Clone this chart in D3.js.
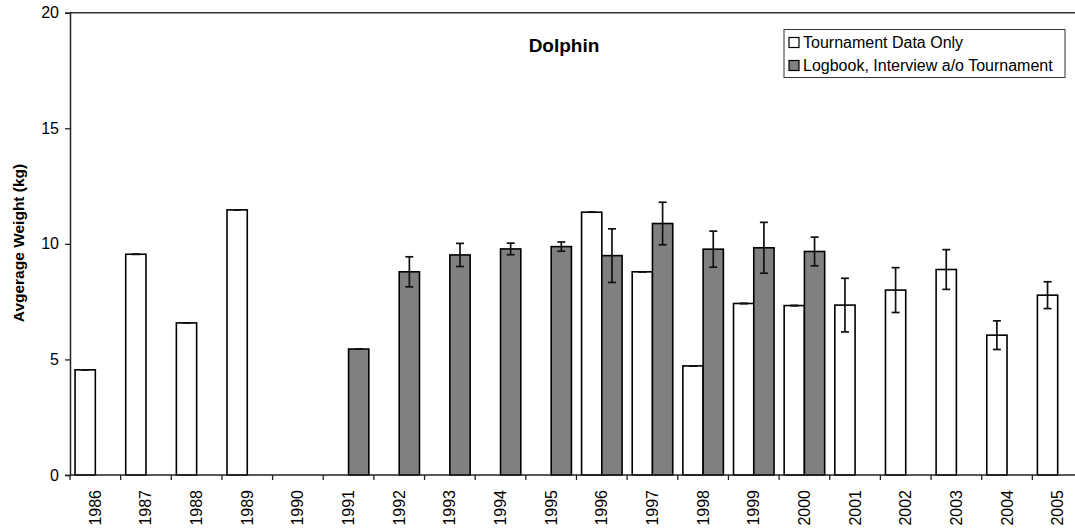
<!DOCTYPE html>
<html>
<head>
<meta charset="utf-8">
<script src="https://cdn.jsdelivr.net/npm/d3@7"></script>
<style>
  html, body { margin: 0; padding: 0; background: #fff; }
  svg { display: block; font-family: "Liberation Sans", Arial, sans-serif; }
</style>
</head>
<body>
<svg id="chart" width="1075" height="531"></svg>
<script>
// Dolphin average weight by year, two data sources
const years = ["1986","1987","1988","1989","1990","1991","1992","1993","1994","1995",
               "1996","1997","1998","1999","2000","2001","2002","2003","2004","2005"];
const seriesNames = ["Tournament Data Only", "Logbook, Interview a/o Tournament"];
const tournament    = [4.55, 9.55, 6.58, 11.47, 0, 0, 0, 0, 0, 0,
                       11.37, 8.79, 4.72, 7.42, 7.33, 7.35, 8.0, 8.89, 6.05, 7.78];
const tournamentErr = [0, 0, 0, 0, 0, 0, 0, 0, 0, 0,
                       0, 0, 0, 0, 0, 1.16, 0.97, 0.86, 0.62, 0.58];
const logbook       = [0, 0, 0, 0, 0, 5.45, 8.79, 9.52, 9.78, 9.88,
                       9.49, 10.88, 9.77, 9.83, 9.67, 0, 0, 0, 0, 0];
const logbookErr    = [0, 0, 0, 0, 0, 0, 0.65, 0.5, 0.25, 0.2,
                       1.16, 0.92, 0.78, 1.1, 0.62, 0, 0, 0, 0, 0];
const yTicks = [0, 5, 10, 15, 20];
const fills = ["#ffffff", "#808080"];

const svg = d3.select("#chart");
const plotLeft = 70, plotTop = 12.7, plotBottom = 475;
const step = 50.65;
const plotRight = plotLeft + step * years.length;

const x = d3.scaleBand().domain(years).range([plotLeft, plotRight]).padding(0);
const xs = d3.scaleBand().domain(seriesNames).range([0, x.bandwidth()])
  .paddingInner(0).paddingOuter(0.25);
const y = d3.scaleLinear().domain([0, 20]).range([plotBottom, plotTop]);

const rows = years.map((yr, i) => ({
  year: yr,
  vals: [
    { s: seriesNames[0], v: tournament[i], e: tournamentErr[i], fill: fills[0] },
    { s: seriesNames[1], v: logbook[i], e: logbookErr[i], fill: fills[1] }
  ]
}));

// bars
const groups = svg.append("g").selectAll("g").data(rows).join("g")
  .attr("transform", d => `translate(${x(d.year)},0)`);

groups.selectAll("rect").data(d => d.vals).join("rect")
  .attr("x", d => xs(d.s))
  .attr("y", d => y(d.v))
  .attr("width", xs.bandwidth())
  .attr("height", d => y(0) - y(d.v))
  .attr("fill", d => d.fill)
  .attr("stroke", "#000")
  .attr("stroke-width", 1.6);

// error bars
const capW = 8;
const eb = groups.selectAll("g.err").data(d => d.vals.filter(v => v.v > 0)).join("g")
  .attr("class", "err")
  .attr("stroke", "#111")
  .attr("stroke-width", 1.7);
eb.append("line")
  .attr("x1", d => xs(d.s) + xs.bandwidth() / 2)
  .attr("x2", d => xs(d.s) + xs.bandwidth() / 2)
  .attr("y1", d => y(d.v + d.e))
  .attr("y2", d => y(d.v - d.e));
eb.append("line")
  .attr("x1", d => xs(d.s) + xs.bandwidth() / 2 - capW / 2)
  .attr("x2", d => xs(d.s) + xs.bandwidth() / 2 + capW / 2)
  .attr("y1", d => y(d.v + d.e))
  .attr("y2", d => y(d.v + d.e));
eb.append("line")
  .attr("x1", d => xs(d.s) + xs.bandwidth() / 2 - capW / 2)
  .attr("x2", d => xs(d.s) + xs.bandwidth() / 2 + capW / 2)
  .attr("y1", d => y(d.v - d.e))
  .attr("y2", d => y(d.v - d.e));

// top frame line
svg.append("line")
  .attr("x1", plotLeft).attr("x2", plotRight)
  .attr("y1", y(20)).attr("y2", y(20))
  .attr("stroke", "#333").attr("stroke-width", 1.5);

// y axis
const yAxis = svg.append("g")
  .attr("transform", `translate(${plotLeft},0)`)
  .call(d3.axisLeft(y).tickValues(yTicks).tickSize(5).tickPadding(6).tickFormat(d3.format("d")));
yAxis.select(".domain").attr("stroke", "#222").attr("stroke-width", 1.5);
yAxis.selectAll(".tick line").attr("stroke", "#222").attr("stroke-width", 1.3);
yAxis.selectAll(".tick text")
  .attr("font-size", 16).attr("fill", "#000")
  .attr("font-family", "'Liberation Sans', Arial, sans-serif");

// x axis with ticks at category boundaries
const xAxisG = svg.append("g");
xAxisG.append("line")
  .attr("x1", plotLeft).attr("x2", plotRight)
  .attr("y1", plotBottom).attr("y2", plotBottom)
  .attr("stroke", "#222").attr("stroke-width", 1.5);
xAxisG.selectAll("line.tk").data(years.concat(["end"])).join("line")
  .attr("class", "tk")
  .attr("x1", (d, i) => plotLeft + i * x.step())
  .attr("x2", (d, i) => plotLeft + i * x.step())
  .attr("y1", plotBottom).attr("y2", plotBottom + 5)
  .attr("stroke", "#222").attr("stroke-width", 1.3);
xAxisG.selectAll("text").data(years).join("text")
  .attr("transform", d => `translate(${x(d) + x.bandwidth() / 2 + 5.5},${plotBottom + 15}) rotate(-90)`)
  .attr("text-anchor", "end")
  .attr("font-size", 16)
  .attr("fill", "#000")
  .text(d => d);

// y axis title
svg.append("text")
  .attr("transform", `translate(23.5,243) rotate(-90)`)
  .attr("text-anchor", "middle")
  .attr("font-size", 15.5)
  .attr("font-weight", "bold")
  .attr("fill", "#000")
  .text("Avgerage Weight (kg)");

// chart title
svg.append("text")
  .attr("x", 564).attr("y", 52)
  .attr("text-anchor", "middle")
  .attr("font-size", 19)
  .attr("font-weight", "bold")
  .attr("fill", "#000")
  .text("Dolphin");

// legend
const lg = svg.append("g").attr("transform", "translate(784,29.5)");
lg.append("rect")
  .attr("width", 281).attr("height", 48)
  .attr("fill", "#fff").attr("stroke", "#333").attr("stroke-width", 1);
const li = lg.selectAll("g.item").data(seriesNames).join("g")
  .attr("class", "item")
  .attr("transform", (d, i) => `translate(5,${8 + i * 23})`);
li.append("rect")
  .attr("width", 10).attr("height", 10)
  .attr("fill", (d, i) => fills[i])
  .attr("stroke", "#000").attr("stroke-width", 1.2);
li.append("text")
  .attr("x", 14).attr("y", 10.5)
  .attr("font-size", 16)
  .attr("fill", "#000")
  .text(d => d);
</script>
</body>
</html>
